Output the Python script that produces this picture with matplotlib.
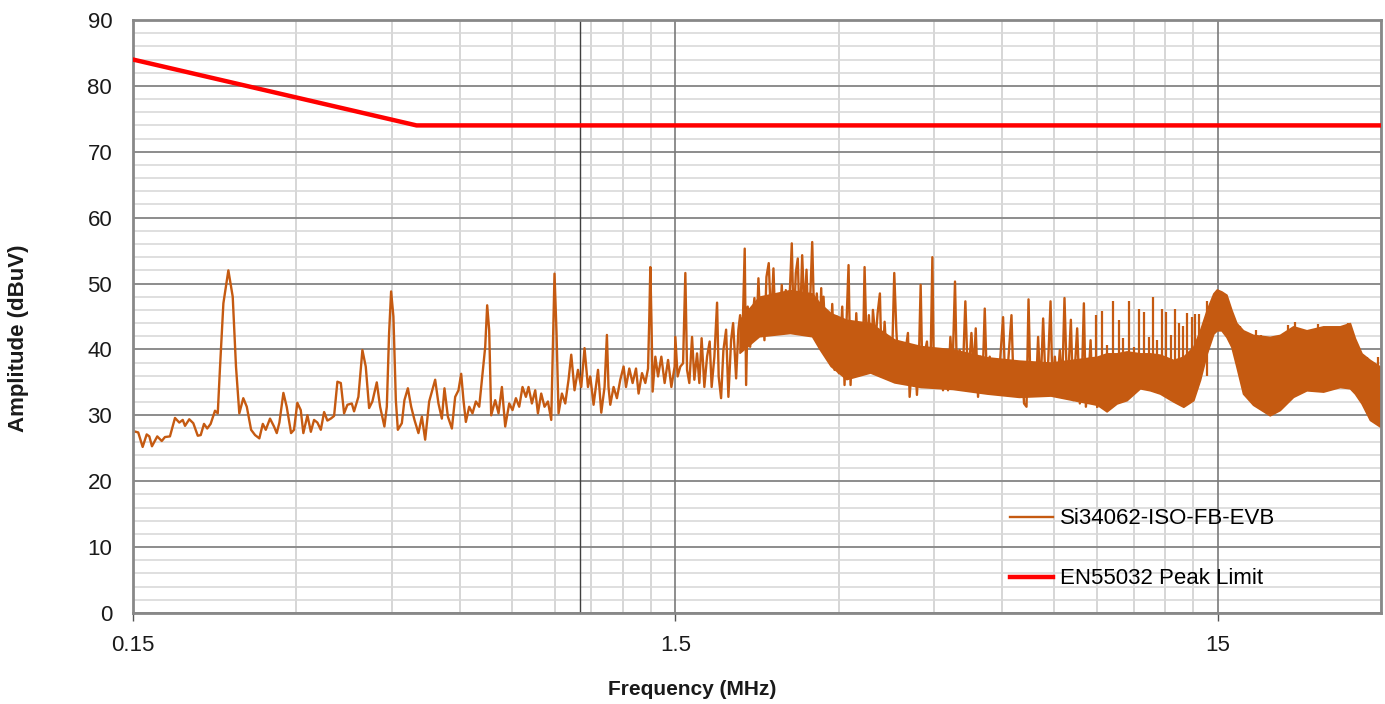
import matplotlib.pyplot as plt
from matplotlib.ticker import FixedLocator, NullFormatter

plt.rcParams['font.family'] = ['Liberation Sans', 'DejaVu Sans']

# Conducted emission scan (MHz, dBuV)
emi_freq = [
    0.1502, 0.1534, 0.1563, 0.1590, 0.1608, 0.1626, 0.1663, 0.1695, 0.1718, 0.1755,
    0.1793, 0.1826, 0.1853, 0.1871, 0.1905, 0.1938, 0.1975, 0.2000, 0.2028, 0.2056,
    0.2086, 0.2125, 0.2150, 0.2171, 0.2202, 0.2249, 0.2291, 0.2323, 0.2356, 0.2396,
    0.2432, 0.2477, 0.2519, 0.2565, 0.2603, 0.2636, 0.2684, 0.2730, 0.2762, 0.2793,
    0.2841, 0.2881, 0.2935, 0.2972, 0.3014, 0.3058, 0.3092, 0.3146, 0.3192, 0.3236,
    0.3282, 0.3330, 0.3377, 0.3424, 0.3474, 0.3523, 0.3573, 0.3625, 0.3676, 0.3728,
    0.3798, 0.3835, 0.3906, 0.3973, 0.4030, 0.4088, 0.4145, 0.4223, 0.4283, 0.4362,
    0.4407, 0.4450, 0.4488, 0.4532, 0.4579, 0.4618, 0.4697, 0.4749, 0.4819, 0.4887,
    0.4956, 0.5040, 0.5114, 0.5186, 0.5275, 0.5411, 0.5487, 0.5567, 0.5629, 0.5711,
    0.5809, 0.5891, 0.5974, 0.6043, 0.6102, 0.6164, 0.6252, 0.6340, 0.6432, 0.6524,
    0.6598, 0.6692, 0.6748, 0.6806, 0.6864, 0.6982, 0.7081, 0.7183, 0.7285, 0.7410,
    0.7514, 0.7623, 0.7731, 0.7840, 0.7954, 0.8043, 0.8159, 0.8275, 0.8370, 0.8488,
    0.8608, 0.8733, 0.8857, 0.8932, 0.8981, 0.9058, 0.9136, 0.9268, 0.9400, 0.9532,
    0.9642, 0.9778, 0.9921, 1.0061, 1.0202, 1.0351, 1.0453, 1.0601, 1.0803, 1.0953,
    1.1107, 1.1218, 1.1294, 1.1380, 1.1541, 1.1705, 1.1874, 1.2042, 1.2165, 1.2337,
    1.2512, 1.2694, 1.2833, 1.3021, 1.3206, 1.3359, 1.3432, 1.3489, 1.3564, 1.3621,
    1.3779, 1.3938, 1.4135, 1.4334, 1.4544, 1.4749, 1.4957, 1.5000, 1.5147, 1.5322,
    1.5500, 1.5651, 1.5764, 1.5918, 1.6103, 1.6261, 1.6448, 1.6610, 1.6771, 1.6967,
    1.7163, 1.7354, 1.7500, 1.7704, 1.7908, 1.8030, 1.8215, 1.8395, 1.8608, 1.8790,
    1.9006, 1.9170, 1.9416, 1.9605, 1.9749, 1.9917, 2.0138, 2.0258, 2.0395, 2.0605,
    2.0781, 2.0985, 2.1165, 2.1345, 2.1528, 2.1741, 2.1897, 2.2083, 2.2300, 2.2528,
    2.2751, 2.2946, 2.3171, 2.3367, 2.3568, 2.3765, 2.3973, 2.4176, 2.4382, 2.4591,
    2.4797, 2.5014, 2.5226, 2.5440, 2.5701, 2.5956, 2.6178, 2.6402, 2.6627, 2.6820,
    2.7084, 2.7348, 2.7663, 2.7865, 2.7984, 2.8140, 2.8465, 2.8709, 2.8953, 2.9200,
    2.9487, 2.9775, 3.0029, 3.0467, 3.0766, 3.0991, 3.1294, 3.1562, 3.1875, 3.2103,
    3.2336, 3.2694, 3.2975, 3.3258, 3.3497, 3.3825, 3.4115, 3.4464, 3.4704, 3.5102,
    3.5402, 3.5748, 3.6053, 3.6471, 3.6827, 3.7253, 3.7571, 3.7995, 3.8330, 3.8754,
    3.9152, 3.9539, 3.9876, 4.0267, 4.0558, 4.1028, 4.1431, 4.1836, 4.2194, 4.2501,
    4.2810, 4.3230, 4.3653, 4.4027, 4.4346, 4.4669, 4.4964, 4.5435, 4.5825, 4.6215,
    4.6731, 4.7267, 4.7730, 4.8222, 4.8633, 4.9172, 4.9592, 5.0163, 5.0745, 5.1381,
    5.1966, 5.2724, 5.3243, 5.3697, 5.4224, 5.4782, 5.5250, 5.5791, 5.6336, 5.6987,
    5.7647, 5.8370, 5.9034, 5.9717, 6.0309, 6.0905, 6.1599, 6.2495, 6.3111, 6.3840,
    6.4547, 6.5294, 6.5922, 6.6614, 6.7185, 6.7755, 6.8512, 6.9297, 6.9976, 7.0697,
    7.1487, 7.2308, 7.3016, 7.3769, 7.4397, 7.5128, 7.5863, 7.6737, 7.7484, 7.8269,
    7.8959, 7.9731, 8.0414, 8.1210, 8.1896, 8.2595, 8.3547, 8.4264, 8.4983, 8.5710,
    8.6705, 8.7441, 8.8187, 8.9052, 8.9924,
]
emi_dbuv = [
    27.6, 27.4, 25.2, 27.1, 26.8, 25.3, 26.8, 26.1, 26.7, 26.8,
    29.6, 28.9, 29.3, 28.4, 29.4, 28.8, 26.9, 27.0, 28.7, 28.0,
    28.7, 30.7, 30.3, 37.4, 47.0, 52.0, 48.0, 37.4, 30.3, 32.6,
    31.3, 27.8, 27.0, 26.5, 28.7, 27.8, 29.5, 28.3, 27.3, 28.9,
    33.4, 31.3, 27.3, 27.8, 31.9, 30.8, 27.3, 30.0, 27.5, 29.3,
    28.9, 27.8, 30.5, 29.2, 29.5, 29.9, 35.1, 34.9, 30.3, 31.6,
    31.8, 30.6, 32.8, 39.9, 37.4, 31.1, 32.1, 35.0, 31.3, 28.3,
    31.3, 42.5, 48.8, 45.0, 32.3, 27.8, 28.8, 32.3, 34.1, 31.3,
    29.3, 27.3, 29.8, 26.3, 32.1, 35.4, 31.8, 29.5, 34.1, 29.8,
    28.0, 32.8, 33.8, 36.3, 32.3, 29.0, 31.3, 30.3, 32.1, 31.3,
    35.4, 40.4, 46.7, 42.9, 30.0, 32.3, 30.3, 34.3, 28.3, 31.8,
    30.8, 32.6, 31.3, 34.3, 32.8, 34.3, 31.8, 33.8, 30.3, 33.3,
    31.3, 32.1, 29.3, 42.5, 51.5, 42.5, 30.3, 33.3, 31.8, 35.4,
    39.2, 33.8, 36.9, 34.3, 40.2, 34.3, 35.9, 31.6, 36.9, 30.4,
    34.3, 42.2, 34.3, 31.6, 34.3, 32.6, 35.4, 37.4, 34.3, 37.1,
    34.9, 37.1, 33.3, 36.4, 34.9, 37.1, 45.0, 52.5, 43.0, 33.6,
    38.9, 35.9, 38.9, 34.9, 38.4, 34.3, 37.4, 41.9, 35.9, 37.4,
    37.9, 51.6, 36.9, 34.9, 41.9, 35.4, 39.4, 34.9, 41.7, 34.3,
    38.9, 41.2, 34.3, 38.9, 47.1, 35.9, 32.6, 39.9, 43.0, 32.8,
    41.4, 44.0, 35.6, 43.0, 45.2, 39.9, 55.3, 34.6, 46.5, 40.4,
    44.0, 47.8, 41.9, 50.8, 43.0, 47.3, 41.4, 51.0, 53.1, 44.0,
    52.3, 43.0, 48.0, 43.5, 49.8, 43.0, 49.0, 44.0, 48.5, 56.1,
    43.0, 51.6, 53.8, 42.5, 54.3, 45.5, 52.1, 43.0, 49.0, 56.3,
    42.5, 48.5, 40.9, 49.3, 40.9, 48.0, 38.9, 45.0, 37.9, 46.9,
    36.9, 45.0, 36.4, 46.5, 34.6, 43.0, 52.8, 34.6, 44.0, 36.9,
    45.5, 36.1, 43.5, 38.9, 52.5, 38.9, 45.2, 38.1, 46.0, 41.4,
    45.5, 48.5, 35.9, 44.2, 37.9, 41.4, 35.9, 51.6, 43.0, 35.4,
    40.4, 36.4, 39.9, 42.5, 32.8, 38.9, 40.4, 33.1, 38.9, 49.8,
    36.4, 39.4, 41.2, 34.9, 38.9, 54.0, 34.9, 37.9, 34.3, 37.9,
    33.8, 39.4, 33.8, 41.9, 36.4, 50.3, 35.4, 39.9, 34.6, 47.3,
    34.9, 42.5, 36.4, 43.2, 32.8, 38.9, 34.9, 46.2, 34.3, 38.9,
    33.3, 38.4, 33.8, 39.9, 44.9, 33.8, 37.9, 45.2, 33.3, 37.9,
    32.8, 37.9, 31.8, 31.3, 47.6, 34.3, 37.9, 33.3, 41.9, 33.8,
    44.7, 33.8, 37.9, 47.3, 33.8, 38.9, 34.3, 39.9, 34.3, 47.8,
    36.9, 37.9, 44.5, 32.3, 37.9, 43.2, 31.8, 35.4, 47.0, 31.3,
    35.9, 41.4, 32.3, 34.3, 31.3,
]

# Dense part of the scan: upper / lower edge of the solid band
band_freq = [1.97, 2.14, 2.44, 2.68, 2.77, 2.90, 3.10, 3.43, 3.80, 4.25,
             4.87, 5.63, 6.45, 7.38, 8.992, 9.360, 9.766, 10.190, 10.782, 11.251,
             11.739, 12.423, 12.962, 13.524, 13.915, 14.318, 14.725, 14.940, 15.237, 15.566,
             15.898, 16.241, 16.703, 17.428, 18.711, 19.523, 20.658, 21.870, 23.469, 25.194,
             26.289, 26.854, 27.627, 28.623, 29.865]
band_top = [44.5, 48.0, 49.0, 48.5, 47.0, 45.5, 44.5, 44.0, 41.5, 40.5,
            40.0, 38.8, 38.3, 38.0, 38.9, 39.4, 39.4, 39.7, 39.4, 39.4,
            39.2, 38.4, 38.9, 40.4, 42.9, 46.0, 48.5, 49.1, 48.8, 48.3,
            46.0, 44.0, 42.9, 42.2, 41.9, 42.2, 43.5, 42.9, 43.5, 43.5,
            44.0, 41.7, 39.4, 38.4, 37.4]
band_bot = [39.5, 42.0, 42.5, 42.0, 40.0, 37.5, 35.5, 36.5, 35.0, 34.3,
            34.0, 33.3, 32.8, 33.0, 31.6, 30.6, 31.8, 32.3, 34.1, 33.8,
            33.3, 32.1, 31.3, 32.3, 35.4, 39.4, 42.4, 42.9, 42.9, 41.9,
            40.4, 37.4, 33.3, 31.6, 30.0, 30.8, 32.8, 33.8, 33.6, 34.3,
            34.1, 33.3, 31.8, 29.3, 28.3]

# harmonic spikes standing out of the band
spike_freq = [8.943, 9.162, 9.383, 9.601, 9.850, 10.044, 10.278, 10.511,
              10.737, 10.967, 11.190, 11.410, 11.605, 11.824, 12.043, 12.286,
              12.497, 12.743, 12.962, 13.184, 13.433, 13.640, 13.856, 14.318,
              16.470, 16.824, 17.186, 17.682, 18.060, 18.450, 18.975, 19.523,
              20.223, 20.808, 21.408, 22.976, 24.488, 26.101, 28.224, 29.650]
spike_dbuv = [45.2, 45.8, 40.7, 47.3, 44.5, 41.7, 47.4, 40.4,
              46.2, 45.7, 41.9, 47.9, 41.4, 46.1, 45.7, 42.2,
              46.1, 44.0, 43.5, 45.6, 44.9, 45.4, 45.4, 47.3,
              43.5, 42.5, 42.2, 43.0, 42.2, 41.9, 41.9, 41.9,
              43.7, 44.2, 42.7, 43.9, 43.2, 44.0, 38.9, 38.9]

# EN55032 peak limit
limit_freq = [0.15, 0.5, 30]
limit_dbuv = [84, 74, 74]

x_ticks = [0.15, 1.5, 15]
x_ticklabels = ['0.15', '1.5', '15']
x_minor = [0.15 * k for k in range(2, 10)] + [1.5 * k for k in range(2, 10)] + [30]

emi_color = '#C55A11'

fig = plt.figure(figsize=(13.85, 7.04), dpi=100)
ax = fig.add_axes([0.0960, 0.1293, 0.9011, 0.8423])

ax.fill_between(band_freq, band_bot, band_top, color=emi_color, lw=1.2, zorder=2)
ax.vlines(spike_freq, 36, spike_dbuv, color=emi_color, lw=1.6, zorder=2)
emi_line, = ax.plot(emi_freq, emi_dbuv, color=emi_color, lw=1.7, zorder=2,
                    label='Si34062-ISO-FB-EVB')
lim_line, = ax.plot(limit_freq, limit_dbuv, color='#FF0000', lw=3.2, zorder=3,
                    label='EN55032 Peak Limit')

ax.set_xscale('log')
ax.set_xlim(0.15, 30)
ax.set_ylim(0, 90)

ax.xaxis.set_major_locator(FixedLocator(x_ticks))
ax.set_xticklabels(x_ticklabels)
ax.xaxis.set_minor_locator(FixedLocator(x_minor))
ax.xaxis.set_minor_formatter(NullFormatter())
ax.set_yticks(range(0, 91, 10))
ax.set_yticks(range(0, 91, 2), minor=True)

ax.set_axisbelow(True)
ax.grid(which='major', axis='y', color='#8c8c8c', lw=1.4)
ax.grid(which='minor', axis='y', color='#d9d9d9', lw=1.2)
ax.grid(which='minor', axis='x', color='#d0d0d0', lw=1.2)
for xt in x_ticks[1:]:
    ax.axvline(xt, color='#7a7a7a', lw=1.2, zorder=1)
ax.axvline(1.0, color='#404040', lw=1.0, zorder=1)

ax.tick_params(axis='y', which='both', length=0, pad=15, labelsize=16, labelcolor='#1a1a1a')
ax.tick_params(axis='x', which='major', length=6, width=1, color='#555555',
               direction='out', pad=10, labelsize=16, labelcolor='#1a1a1a')
ax.tick_params(axis='x', which='minor', length=0)

for sp in ax.spines.values():
    sp.set_color('#888888')
    sp.set_linewidth(2)

ax.set_xlabel('Frequency (MHz)', fontsize=15, fontweight='bold', color='#1a1a1a')
ax.set_ylabel('Amplitude (dBuV)', fontsize=16, fontweight='bold', color='#1a1a1a')
ax.xaxis.set_label_coords(0.448, -0.113)
ax.yaxis.set_label_coords(-0.0835, 0.464)

ax.legend(handles=[emi_line, lim_line], loc='center left', bbox_to_anchor=(0.7027, 0.108),
          frameon=False, fontsize=16, handlelength=1.95, handletextpad=0.3,
          labelspacing=1.75, borderpad=0, borderaxespad=0)

fig.savefig('out.png', dpi=100)
